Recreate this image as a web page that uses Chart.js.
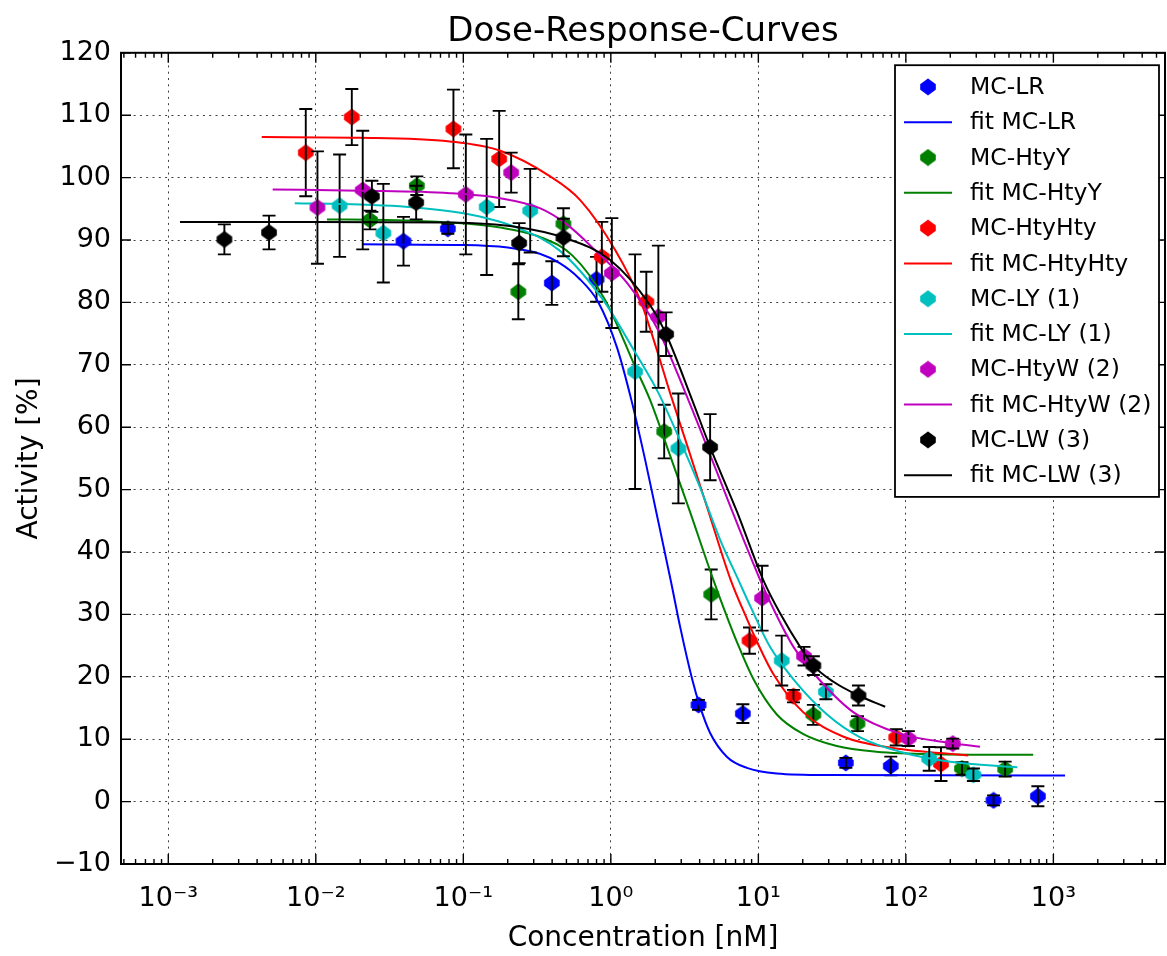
<!DOCTYPE html>
<html>
<head>
<meta charset="utf-8">
<script src="https://cdn.jsdelivr.net/npm/chart.js@4.4.0/dist/chart.umd.min.js"></script>
<style>
html,body{margin:0;padding:0;background:#fff;}
#wrap{width:1167px;height:956px;position:relative;}
</style>
</head>
<body>
<div id="wrap"><canvas id="c" width="1167" height="956"></canvas></div>
<script>
// ---------------- data ----------------
const xTickValues = [1e-3, 1e-2, 1e-1, 1, 10, 100, 1000];
const yTickValues = [-10, 0, 10, 20, 30, 40, 50, 60, 70, 80, 90, 100, 110, 120];

// MC-LR (blue)
const lrX   = [0.0393, 0.0785, 0.398, 0.80, 3.93, 7.85, 39.2, 79, 393, 785];
const lrY   = [89.8, 91.8, 83.1, 83.7, 15.5, 14.1, 6.2, 5.7, 0.2, 0.85];
const lrErr = [3.9, 0.8, 3.5, 3.6, 0.8, 1.5, 0.8, 1.5, 0.8, 1.6];
const lrFitX = [0.0206, 0.1, 0.2, 0.33, 0.45, 0.6, 0.824, 1.10, 1.38, 1.7, 2.02, 2.57, 2.95, 3.56, 3.99, 4.71, 6.11, 8.36, 13.3, 30, 1200];
const lrFitY = [89.3, 89.2, 88.8, 87.8, 86.3, 84.0, 80.0, 72.8, 64.3, 55.0, 46.7, 35.0, 28.0, 19.6, 15.5, 11.0, 7.2, 5.4, 4.5, 4.25, 4.2];

// MC-HtyY (green)
const hyX   = [0.0233, 0.0484, 0.236, 0.477, 2.30, 4.79, 23.6, 47, 240, 471];
const hyY   = [93.2, 98.7, 81.7, 92.6, 59.3, 33.2, 13.9, 12.5, 5.3, 5.2];
const hyErr = [1.5, 1.5, 4.4, 2.5, 4.3, 4.0, 1.6, 1.2, 1.0, 1.2];
const hyFitX = [0.0119, 0.03, 0.08, 0.178, 0.33, 0.55, 0.915, 1.46, 1.85, 2.5, 3.41, 4.96, 6.27, 7.15, 9.27, 13.3, 20.2, 34, 63, 150, 730];
const hyFitY = [93.3, 93.2, 92.8, 92.0, 90.5, 87.5, 80.4, 69.7, 64.3, 55.7, 46.7, 35.5, 29.0, 25.6, 19.6, 14.0, 10.8, 8.9, 8.0, 7.6, 7.5];

// MC-HtyHty (red)
const hhX   = [0.00855, 0.01754, 0.0857, 0.175, 0.869, 1.74, 8.71, 17.3, 86, 173];
const hhY   = [104.0, 109.7, 107.8, 103.0, 87.3, 80.1, 25.8, 16.9, 10.3, 6.0];
const hhErr = [7.0, 4.5, 6.3, 7.7, 5.6, 4.8, 2.1, 1.0, 1.3, 2.7];
const hhFitX = [0.0043, 0.02, 0.081, 0.178, 0.388, 0.62, 1.07, 1.58, 2.05, 2.52, 3.3, 4.59, 6.5, 8.36, 9.5, 12.6, 20.2, 37.8, 82, 265];
const hhFitY = [106.5, 106.4, 105.8, 104.3, 100.2, 96.4, 88.4, 80.4, 72.4, 65.5, 57.0, 46.5, 35.5, 29.3, 26.3, 20.5, 14.3, 10.4, 8.6, 7.4];

// MC-LY (1) (cyan)
const lyX   = [0.0145, 0.0287, 0.144, 0.284, 1.46, 2.87, 14.4, 28.7, 144, 287];
const lyY   = [95.5, 91.1, 95.3, 94.7, 68.9, 56.6, 22.6, 17.6, 6.85, 4.3];
const lyErr = [8.2, 7.9, 10.9, 6.7, 18.8, 8.8, 4.0, 1.2, 1.9, 1.0];
const lyFitX = [0.0072, 0.02, 0.037, 0.081, 0.144, 0.23, 0.45, 0.886, 1.46, 2.10, 2.87, 4.0, 5.5, 7.33, 9.03, 12.0, 17.3, 29.1, 49, 91, 200, 570];
const lyFitY = [95.9, 95.7, 95.4, 94.6, 93.5, 92.0, 88.3, 80.4, 72.0, 65.5, 58.5, 50.5, 42.0, 35.5, 30.8, 24.8, 19.6, 14.0, 10.3, 8.0, 6.4, 5.5];

// MC-HtyW (2) (magenta)
const hwX   = [0.01026, 0.0208, 0.104, 0.211, 1.016, 2.10, 10.6, 20.4, 104, 208];
const hwY   = [95.2, 98.0, 97.3, 100.8, 84.7, 77.7, 32.6, 23.3, 10.1, 9.3];
const hwErr = [9.0, 9.5, 9.6, 3.2, 8.8, 11.4, 5.2, 1.5, 1.2, 0.8];
const hwFitX = [0.0051, 0.02, 0.081, 0.178, 0.33, 0.503, 0.78, 1.3, 2.10, 3.36, 5.2, 6.61, 10.3, 13.0, 17.3, 26.2, 44.2, 91, 200, 318];
const hwFitY = [98.1, 97.9, 97.5, 96.7, 95.1, 92.5, 88.4, 83.0, 75.5, 64.3, 53.0, 46.7, 35.5, 30.3, 24.8, 19.4, 14.3, 10.9, 9.4, 8.8];

// MC-LW (3) (black)
const lwX   = [0.0024, 0.00482, 0.024, 0.0479, 0.239, 0.477, 2.37, 4.71, 23.6, 47.7];
const lwY   = [90.1, 91.2, 97.0, 96.0, 89.5, 90.4, 74.9, 56.8, 21.8, 17.0];
const lwErr = [2.4, 2.7, 2.5, 2.7, 3.2, 3.0, 3.5, 5.3, 1.5, 1.6];
const lwFitX = [0.0012, 0.01, 0.081, 0.23, 0.477, 0.99, 1.85, 2.37, 3.54, 4.71, 7.15, 10.8, 14.1, 19.2, 23.6, 32.3, 47.7, 72.4];
const lwFitY = [92.9, 92.9, 92.8, 92.1, 90.4, 86.8, 79.5, 74.9, 64.5, 56.8, 46.5, 35.5, 30.1, 24.8, 21.8, 19.2, 17.0, 15.2];

const seriesNames = ['MC-LR', 'MC-HtyY', 'MC-HtyHty', 'MC-LY (1)', 'MC-HtyW (2)', 'MC-LW (3)'];
const seriesColors = ['#0000ff', '#008000', '#ff0000', '#00bfbf', '#bf00bf', '#000000'];

// ---------------- build ----------------
const FONT = "'DejaVu Sans', 'Noto Sans', sans-serif";
Chart.defaults.font.family = FONT;
Chart.defaults.color = '#000';

function markerCanvas(color) {
  const c = document.createElement('canvas');
  c.width = 18; c.height = 18;
  const g = c.getContext('2d');
  g.fillStyle = color;
  g.beginPath();
  g.moveTo(9, 0.6);
  g.lineTo(16.8, 6.2);
  g.lineTo(16.8, 11.8);
  g.lineTo(9, 17.4);
  g.lineTo(1.2, 11.8);
  g.lineTo(1.2, 6.2);
  g.closePath();
  g.fill();
  return c;
}
const pairs = (xs, ys) => xs.map((x, i) => ({x: x, y: ys[i]}));

const pointSets = [[lrX, lrY, lrErr], [hyX, hyY, hyErr], [hhX, hhY, hhErr], [lyX, lyY, lyErr], [hwX, hwY, hwErr], [lwX, lwY, lwErr]];
const fitSets = [[lrFitX, lrFitY], [hyFitX, hyFitY], [hhFitX, hhFitY], [lyFitX, lyFitY], [hwFitX, hwFitY], [lwFitX, lwFitY]];

const datasets = [];
seriesNames.forEach((name, s) => {
  const col = seriesColors[s];
  datasets.push({
    label: name,
    data: pairs(pointSets[s][0], pointSets[s][1]),
    errors: pointSets[s][2],
    showLine: false,
    pointStyle: markerCanvas(col),
    pointRadius: 8,
    backgroundColor: col,
    borderColor: col
  });
  datasets.push({
    label: 'fit ' + name,
    data: pairs(fitSets[s][0], fitSets[s][1]),
    showLine: true,
    pointRadius: 0,
    borderColor: col,
    backgroundColor: col,
    borderWidth: 2,
    cubicInterpolationMode: 'monotone',
    fill: false
  });
});
datasets.forEach((d, i) => { d.order = -i; });

const supMap = {'-': '\u207B', '0': '\u2070', '1': '\u00B9', '2': '\u00B2', '3': '\u00B3', '4': '\u2074', '5': '\u2075'};
const toSup = s => String(s).split('').map(ch => supMap[ch] || ch).join('');

const errorBarPlugin = {
  id: 'errorBars',
  afterDatasetDraw(chart, args) {
    const ds = chart.data.datasets[args.index];
    if (!ds.errors) return;
    const {ctx, chartArea: a} = chart;
    const ys = chart.scales.y;
    ctx.save();
    ctx.beginPath();
    ctx.rect(a.left, a.top, a.right - a.left, a.bottom - a.top);
    ctx.clip();
    ctx.strokeStyle = '#000';
    ctx.lineWidth = 1.9;
    args.meta.data.forEach((pt, i) => {
      const v = ds.data[i].y, e = ds.errors[i];
      const x = pt.x;
      const y1 = ys.getPixelForValue(v + e), y2 = ys.getPixelForValue(v - e);
      ctx.beginPath();
      ctx.moveTo(x, y1); ctx.lineTo(x, y2);
      ctx.moveTo(x - 6.5, y1); ctx.lineTo(x + 6.5, y1);
      ctx.moveTo(x - 6.5, y2); ctx.lineTo(x + 6.5, y2);
      ctx.stroke();
    });
    ctx.restore();
  }
};

const framePlugin = {
  id: 'frameTicks',
  afterDatasetsDraw(chart) {
    const {ctx, chartArea: a} = chart;
    const xs = chart.scales.x, ys = chart.scales.y;
    ctx.save();
    ctx.strokeStyle = '#000';
    ctx.lineWidth = 1.4;
    ctx.beginPath();
    const lo = Math.floor(Math.log10(xs.min)), hi = Math.ceil(Math.log10(xs.max));
    for (let d = lo; d <= hi; d++) {
      for (let k = 1; k < 10; k++) {
        const v = k * Math.pow(10, d);
        if (v < xs.min || v > xs.max) continue;
        const px = xs.getPixelForValue(v);
        const L = k === 1 ? 10 : 5;
        ctx.moveTo(px, a.bottom); ctx.lineTo(px, a.bottom - L);
        ctx.moveTo(px, a.top); ctx.lineTo(px, a.top + L);
      }
    }
    yTickValues.forEach(v => {
      const py = ys.getPixelForValue(v);
      ctx.moveTo(a.left, py); ctx.lineTo(a.left + 10, py);
      ctx.moveTo(a.right, py); ctx.lineTo(a.right - 10, py);
    });
    ctx.stroke();
    ctx.lineWidth = 2;
    ctx.strokeRect(a.left, a.top, a.right - a.left, a.bottom - a.top);
    ctx.restore();
  }
};

const legendPlugin = {
  id: 'boxLegend',
  afterDraw(chart) {
    const {ctx, chartArea: a} = chart;
    const items = chart.data.datasets;
    const w = 264, rowH = 35.3, padTop = 21.7;
    const h = padTop * 2 + rowH * (items.length - 1);
    const left = a.right - 6 - w, top = a.top + 12.4;
    ctx.save();
    ctx.fillStyle = '#fff';
    ctx.fillRect(left, top, w, h);
    ctx.strokeStyle = '#000';
    ctx.lineWidth = 1.8;
    ctx.strokeRect(left, top, w, h);
    ctx.font = '23.5px ' + FONT;
    ctx.textBaseline = 'middle';
    ctx.textAlign = 'left';
    items.forEach((ds, i) => {
      const cy = top + padTop + i * rowH;
      if (ds.showLine) {
        ctx.strokeStyle = ds.borderColor;
        ctx.lineWidth = 2;
        ctx.beginPath();
        ctx.moveTo(left + 9, cy); ctx.lineTo(left + 57, cy);
        ctx.stroke();
      } else {
        const img = ds.pointStyle;
        ctx.drawImage(img, left + 33 - img.width / 2, cy - img.height / 2);
      }
      ctx.fillStyle = '#000';
      ctx.fillText(ds.label, left + 75, cy + 1);
    });
    ctx.restore();
  }
};

new Chart(document.getElementById('c'), {
  type: 'scatter',
  data: {datasets: datasets},
  plugins: [errorBarPlugin, framePlugin, legendPlugin],
  options: {
    responsive: false,
    animation: false,
    devicePixelRatio: 1,
    layout: {autoPadding: false, padding: {left: 0, right: 2, top: 0, bottom: 0}},
    plugins: {
      legend: {display: false},
      tooltip: {enabled: false},
      title: {
        display: true,
        fullSize: false,
        text: 'Dose-Response-Curves',
        color: '#000',
        font: {family: FONT, size: 34, weight: 'normal', lineHeight: 1.2},
        padding: {top: 12, bottom: 0}
      }
    },
    scales: {
      x: {
        type: 'logarithmic',
        position: 'bottom',
        min: 4.78e-4,
        max: 5710,
        afterBuildTicks: s => { s.ticks = xTickValues.map(v => ({value: v})); },
        afterFit: s => { s.height = 92; s.paddingLeft = 0; s.paddingRight = 0; },
        ticks: {
          autoSkip: false,
          maxRotation: 0,
          padding: 19,
          color: '#000',
          font: {family: FONT, size: 27},
          callback: v => '10' + toSup(Math.round(Math.log10(v)))
        },
        grid: {color: 'rgba(0,0,0,0.75)', lineWidth: 1, drawTicks: false},
        border: {display: false, dash: [2, 4.3]},
        title: {
          display: true,
          text: 'Concentration [nM]',
          color: '#000',
          font: {family: FONT, size: 28},
          padding: {top: 0, bottom: 0}
        }
      },
      y: {
        type: 'linear',
        min: -10,
        max: 120,
        afterBuildTicks: s => { s.ticks = yTickValues.map(v => ({value: v})); },
        afterFit: s => { s.width = 121; s.paddingTop = 0; s.paddingBottom = 0; },
        ticks: {
          padding: 10,
          color: '#000',
          font: {family: FONT, size: 27},
          callback: v => (v < 0 ? '\u2212' + Math.abs(v) : String(v))
        },
        grid: {color: 'rgba(0,0,0,0.75)', lineWidth: 1, drawTicks: false},
        border: {display: false, dash: [2, 4.3]},
        title: {
          display: true,
          text: 'Activity [%]',
          color: '#000',
          font: {family: FONT, size: 28},
          padding: {top: 13, bottom: 0}
        }
      }
    }
  }
});
</script>
</body>
</html>
